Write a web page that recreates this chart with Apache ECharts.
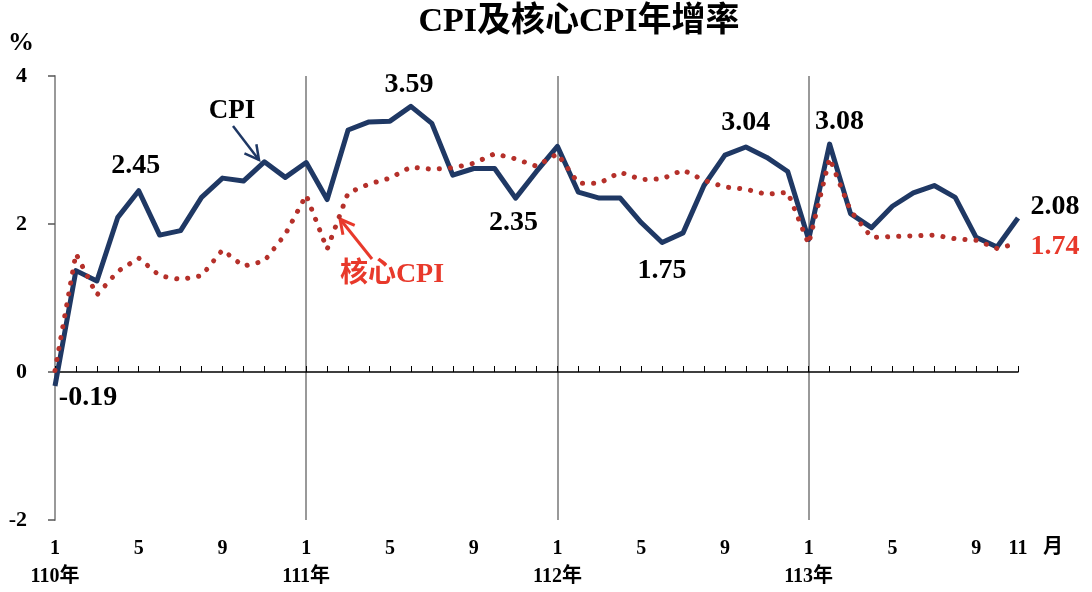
<!DOCTYPE html>
<html>
<head>
<meta charset="utf-8">
<title>CPI及核心CPI年增率</title>
<script src="https://cdn.jsdelivr.net/npm/echarts@6/dist/echarts.min.js"></script>
<style>
  html, body { margin: 0; padding: 0; background: #fff; }
  #main { width: 1092px; height: 592px; }
</style>
</head>
<body>
<div id="main"></div>
<script>
// 年份與月份 (110年1月 ~ 113年11月)
var years = [110, 111, 112, 113]
var lastMonth = 11
var categories = []
years.forEach(function (y, yi) {
  var end = yi === years.length - 1 ? lastMonth : 12
  for (var m = 1; m <= end; m++) categories.push(y + '/' + m)
})

// CPI年增率 (%)
var cpi = [
  -0.19, 1.37, 1.23, 2.09, 2.45, 1.85, 1.91, 2.36, 2.62, 2.58, 2.84, 2.63,
  2.83, 2.33, 3.27, 3.38, 3.39, 3.59, 3.36, 2.66, 2.75, 2.75, 2.35, 2.71,
  3.05, 2.43, 2.35, 2.35, 2.02, 1.75, 1.88, 2.52, 2.93, 3.04, 2.90, 2.71,
  1.79, 3.08, 2.14, 1.95, 2.24, 2.42, 2.52, 2.36, 1.82, 1.69, 2.08
]
// 核心CPI年增率 (%)
var core = [
  0.02, 1.60, 1.04, 1.36, 1.54, 1.30, 1.25, 1.30, 1.65, 1.43, 1.50, 1.86,
  2.39, 1.66, 2.42, 2.54, 2.62, 2.77, 2.74, 2.76, 2.82, 2.95, 2.88, 2.78,
  2.95, 2.55, 2.55, 2.70, 2.60, 2.61, 2.73, 2.59, 2.50, 2.47, 2.40, 2.43,
  1.73, 2.89, 2.18, 1.82, 1.83, 1.84, 1.85, 1.80, 1.78, 1.67, 1.74
]
// y軸刻度
var yTicks = { min: -2, max: 4, step: 2 }

// 標示數值的點 (索引 -> 文字偏移)
var cpiMarks = { 0: [33, 12], 4: [-3, -25], 17: [-2, -22], 22: [-2, 25], 29: [0, 28], 33: [0, -24], 37: [10, -22], 46: [37, -11] }
var coreMarks = { 46: [37, 4] }

var FONT = "'Liberation Serif','Times New Roman','Noto Sans CJK TC',serif"
var NAVY = '#1F3864'
var DOT_RED = '#B5302A'
var RED = '#E8392B'

function buildData (values, marks, color) {
  return values.map(function (v, i) {
    if (!marks[i]) return v
    return {
      value: v,
      label: {
        show: true,
        position: 'inside',
        offset: marks[i],
        formatter: function (p) { return p.value.toFixed(2) },
        color: color,
        fontFamily: FONT,
        fontWeight: 'bold',
        fontSize: 28
      }
    }
  })
}

// 箭頭 (線 + 開口箭頭)
function arrow (x1, y1, x2, y2, color, width) {
  var dx = x2 - x1, dy = y2 - y1
  var len = Math.sqrt(dx * dx + dy * dy)
  var ux = dx / len, uy = dy / len
  var a = 28 * Math.PI / 180, h = 16
  function arm (s) {
    var c = Math.cos(s * a), sn = Math.sin(s * a)
    var rx = ux * c - uy * sn, ry = ux * sn + uy * c
    return [x2 - rx * h, y2 - ry * h]
  }
  return [
    { type: 'line', shape: { x1: x1, y1: y1, x2: x2, y2: y2 }, style: { stroke: color, lineWidth: width } },
    { type: 'polyline', shape: { points: [arm(1), [x2, y2], arm(-1)] }, style: { stroke: color, lineWidth: width, fill: null } }
  ]
}

function txt (text, x, y, size, color) {
  return {
    type: 'text', x: x, y: y,
    style: { text: text, align: 'center', verticalAlign: 'middle', fill: color, font: 'bold ' + size + 'px ' + FONT }
  }
}

var labelFmt = function (value, index) {
  var m = index % 12 + 1
  if (m === 1) return m + '\n' + years[Math.floor(index / 12)] + '年'
  if (m === 5 || m === 9 || index === categories.length - 1) return String(m)
  return ''
}

var chart = echarts.init(document.getElementById('main'))
var option = {
  animation: false,
  backgroundColor: '#fff',
  title: {
    text: 'CPI及核心CPI年增率',
    left: 579, top: 5, padding: 0,
    textAlign: 'center',
    textStyle: { fontFamily: FONT, fontWeight: 'bold', fontSize: 34, color: '#000' }
  },
  grid: { left: 55, right: 74, top: 76, bottom: 72 },
  xAxis: [{
    type: 'category',
    data: categories,
    boundaryGap: false,
    axisLine: { onZero: true, lineStyle: { color: '#000', width: 1.5 } },
    axisTick: { show: true, inside: true, length: 6, interval: 0, lineStyle: { color: '#000', width: 1 } },
    axisLabel: { show: false },
    splitLine: {
      show: true,
      interval: function (i) { return i % 12 === 0 },
      lineStyle: { color: '#999', width: 2 }
    }
  }, {
    type: 'category',
    data: categories,
    boundaryGap: false,
    position: 'bottom',
    axisLine: { show: false, onZero: false },
    axisTick: { show: false },
    splitLine: { show: false },
    axisLabel: {
      interval: 0, margin: 15, lineHeight: 28,
      formatter: labelFmt,
      color: '#000', fontFamily: FONT, fontWeight: 'bold', fontSize: 20
    }
  }],
  yAxis: {
    type: 'value',
    min: yTicks.min, max: yTicks.max, interval: yTicks.step,
    axisLine: { show: true, lineStyle: { color: '#999', width: 2 } },
    axisTick: { show: true, length: 7, lineStyle: { color: '#555', width: 1.5 } },
    splitLine: { show: false },
    axisLabel: { margin: 28, color: '#000', fontFamily: FONT, fontWeight: 'bold', fontSize: 22 }
  },
  series: [{
    name: 'CPI',
    type: 'line',
    xAxisIndex: 0,
    data: buildData(cpi, cpiMarks, '#000'),
    symbol: 'circle', symbolSize: 0.1, showAllSymbol: true,
    itemStyle: { color: NAVY },
    lineStyle: { color: NAVY, width: 5, join: 'round' },
    z: 2
  }, {
    name: '核心CPI',
    type: 'line',
    xAxisIndex: 0,
    data: buildData(core, coreMarks, RED),
    symbol: 'circle', symbolSize: 0.1, showAllSymbol: true,
    itemStyle: { color: DOT_RED },
    lineStyle: { color: DOT_RED, width: 5, type: [0.1, 11], cap: 'round' },
    z: 3
  }],
  graphic: [
    txt('%', 21, 43, 26, '#000'),
    txt('月', 1053, 548, 20, '#000'),
    txt('CPI', 232, 111, 27, '#000'),
    txt('核心CPI', 392, 275, 28, RED)
  ].concat(arrow(233, 126, 259, 160, NAVY, 2.5))
   .concat(arrow(372, 259, 340, 219, RED, 3))
}
chart.setOption(option)

window.addEventListener('resize', function () {
  chart.resize()
})
</script>
</body>
</html>
